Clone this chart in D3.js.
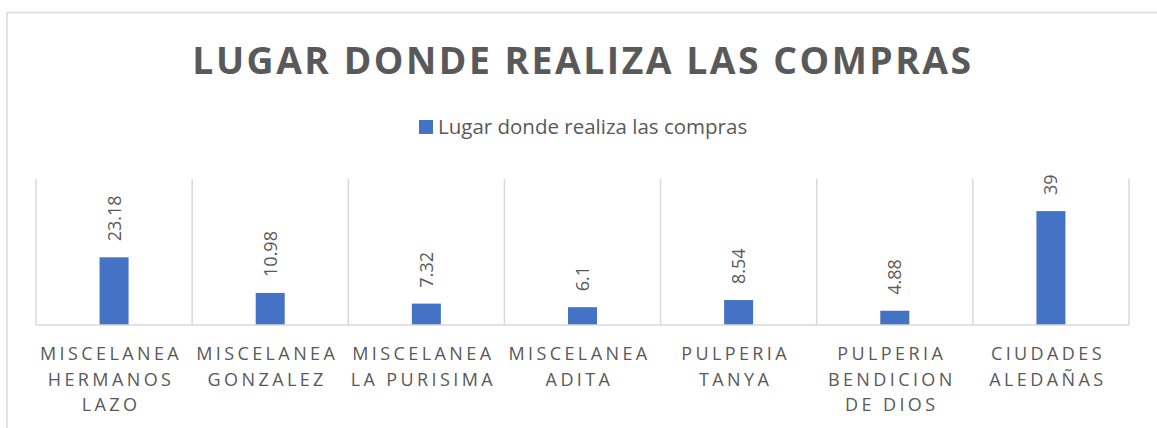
<!DOCTYPE html>
<html><head><meta charset="utf-8">
<script src="https://cdn.jsdelivr.net/npm/d3@7"></script>
<style>body{margin:0;background:#fff;} svg{display:block;}</style>
</head><body>
<svg id="c" width="1157" height="428"></svg>
<script>
const title = "LUGAR DONDE REALIZA LAS COMPRAS";
const seriesName = "Lugar donde realiza las compras";
const categories = ["MISCELANEA HERMANOS LAZO","MISCELANEA GONZALEZ","MISCELANEA LA PURISIMA","MISCELANEA ADITA","PULPERIA TANYA","PULPERIA BENDICION DE DIOS","CIUDADES ALEDAÑAS"];
const values = [23.18, 10.98, 7.32, 6.1, 8.54, 4.88, 39];
const valueLabels = ["23.18","10.98","7.32","6.1","8.54","4.88","39"];
const yDomain = [0, 50];

const svg = d3.select("#c");
const font = "'Open Sans', sans-serif";
const textColor = "#595959", gridColor = "#D9D9D9", barColor = "#4472C4";

// chart frame
svg.append("rect").attr("x",7).attr("y",12.5).attr("width",1200).attr("height",500)
  .attr("fill","none").attr("stroke",gridColor).attr("stroke-width",1.5);

const m = {left:36, right:1129, top:179, bottom:325};
const x = d3.scaleBand().domain(categories).range([m.left, m.right]).paddingInner(0).paddingOuter(0);
const y = d3.scaleLinear().domain(yDomain).range([m.bottom, m.top]);

// title
svg.append("text").attr("x",583).attr("y",73.5).attr("text-anchor","middle")
  .attr("font-family",font).attr("font-weight","bold").attr("font-size",37.3)
  .attr("letter-spacing","2.5px").attr("fill",textColor).text(title);

// legend
const lg = svg.append("g");
lg.append("rect").attr("x",419).attr("y",120).attr("width",14).attr("height",14).attr("fill",barColor);
lg.append("text").attr("x",438).attr("y",134.3).attr("font-family",font).attr("font-size",20.5)
  .attr("fill",textColor).text(seriesName);

// vertical category separators (tick lines)
const seps = d3.range(categories.length+1).map(i => m.left + i*x.step());
svg.append("g").selectAll("line").data(seps).join("line")
  .attr("x1",d=>d).attr("x2",d=>d).attr("y1",m.top).attr("y2",m.bottom)
  .attr("stroke",gridColor).attr("stroke-width",1.5);

// bars
const bw = 29;
svg.append("g").selectAll("rect").data(values).join("rect")
  .attr("x",(d,i)=>x(categories[i]) + x.bandwidth()/2 - bw/2)
  .attr("y",d=>y(d)).attr("width",bw).attr("height",d=>y(0)-y(d))
  .attr("fill",barColor);

// baseline
svg.append("line").attr("x1",m.left).attr("x2",m.right).attr("y1",m.bottom).attr("y2",m.bottom)
  .attr("stroke",gridColor).attr("stroke-width",1.5);

// value labels (rotated)
svg.append("g").selectAll("text").data(values).join("text")
  .attr("transform",(d,i)=>`translate(${x(categories[i]) + x.bandwidth()/2 + 6.5},${y(d)-16}) rotate(-90)`)
  .attr("font-family",font).attr("font-size",18).attr("fill",textColor)
  .attr("text-anchor","start").text((d,i)=>valueLabels[i]);

// category labels with wrapping
const maxW = 152;
const lab = svg.append("g");
categories.forEach((c,i)=>{
  const cx = x(c) + x.bandwidth()/2;
  const t = lab.append("text").attr("font-family",font).attr("font-size",18)
    .attr("letter-spacing","3.4px").attr("fill",textColor).attr("text-anchor","middle");
  const words = c.split(" ");
  let lines = [], cur = [];
  const probe = t.append("tspan");
  words.forEach(w=>{
    const test = cur.concat([w]).join(" ");
    probe.text(test);
    if (cur.length && probe.node().getComputedTextLength() > maxW + 6) { lines.push(cur.join(" ")); cur=[w]; }
    else cur.push(w);
  });
  lines.push(cur.join(" "));
  probe.remove();
  lines.forEach((ln,j)=>{
    t.append("tspan").attr("x",cx-3).attr("y",360 + j*25.5).text(ln);
  });
});
</script>
</body></html>
